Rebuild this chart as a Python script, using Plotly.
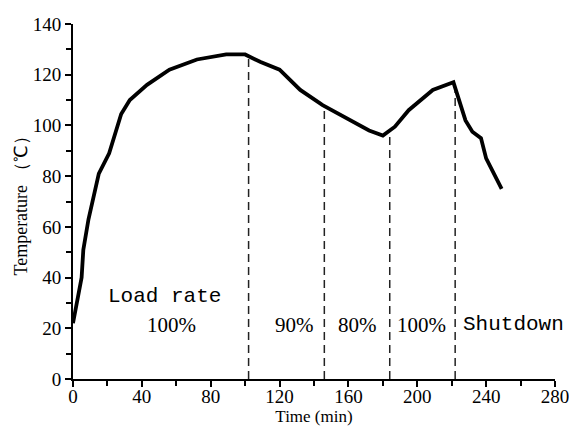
import plotly.graph_objects as go

# Temperature curve
time_min = [0, 5, 6, 9, 15, 21, 28, 33, 43, 56, 72, 89, 100, 109, 120, 132, 145,
            159, 172, 180, 187, 195, 209, 221, 224, 228, 232, 237, 240, 249]
temperature = [22, 40, 51, 63, 81, 89, 104.5, 110, 116, 122, 126, 128, 128, 125,
               122, 114, 108, 103, 98, 96, 99.5, 106, 114, 117, 111, 102, 97.5,
               95, 87, 75]

# Load-rate change positions and heights of the divider lines
divider_x = [102, 146, 184, 222]
divider_top = [127, 108, 97, 117]

# Region labels
label_text = ["Load rate", "100%", "90%", "80%", "100%", "Shutdown"]
label_x = [53.4, 57.5, 128.4, 165.0, 202.7, 256.0]
label_y = [32.7, 21.3, 21.3, 21.3, 21.3, 21.3]
label_font = ["Liberation Mono", "Liberation Serif", "Liberation Serif",
              "Liberation Serif", "Liberation Serif", "Liberation Mono"]

x_ticks = [0, 40, 80, 120, 160, 200, 240, 280]
y_ticks = [0, 20, 40, 60, 80, 100, 120, 140]

fig = go.Figure()

dx, dy = [], []
for xv, top in zip(divider_x, divider_top):
    dx += [xv, xv, None]
    dy += [0, top, None]
fig.add_trace(go.Scatter(x=dx, y=dy, mode="lines",
                         line=dict(color="#222222", width=1.5, dash="8px,5px"),
                         hoverinfo="skip", showlegend=False))

fig.add_trace(go.Scatter(x=time_min, y=temperature, mode="lines",
                         line=dict(color="black", width=3.8, shape="linear"),
                         showlegend=False))

for t, xv, yv, f in zip(label_text, label_x, label_y, label_font):
    fig.add_annotation(x=xv, y=yv, text=t, showarrow=False,
                       font=dict(family=f, size=21, color="black"),
                       xanchor="center", yanchor="middle")

axis_common = dict(showline=True, linecolor="black", linewidth=2,
                   ticks="outside", ticklen=6, tickwidth=1.5, tickcolor="black",
                   showgrid=False, zeroline=False, mirror=False, automargin=False,
                   ticklabeloverflow="allow",
                   tickfont=dict(family="Liberation Serif", size=19, color="black"))

fig.update_xaxes(range=[0, 280], tickvals=x_ticks, ticklabelstandoff=-7,
                 minor=dict(ticks="outside", ticklen=5, tickwidth=1.5,
                            tickcolor="black", dtick=20, tick0=0),
                 title=dict(text="Time (min)", standoff=0,
                            font=dict(family="Liberation Serif", size=17, color="black")),
                 **axis_common)
fig.update_yaxes(range=[0, 140], tickvals=y_ticks,
                 minor=dict(ticks="outside", ticklen=5, tickwidth=1.5,
                            tickcolor="black", dtick=10, tick0=0),
                 title=dict(text="Temperature （℃）", standoff=0,
                            font=dict(family="Liberation Serif", size=18, color="black")),
                 **axis_common)

fig.update_layout(width=569, height=440, plot_bgcolor="white", paper_bgcolor="white",
                  hovermode=False,
                  margin=dict(l=73, r=14, t=24, b=61))

# remove the page's default body margin and scrollbars so the figure fills the window
fig.write_html("out.html",
               config={"displayModeBar": False},
               post_script="document.body.style.margin='0px';"
                           "document.body.style.overflow='hidden';"
                           "document.documentElement.style.overflow='hidden';")
